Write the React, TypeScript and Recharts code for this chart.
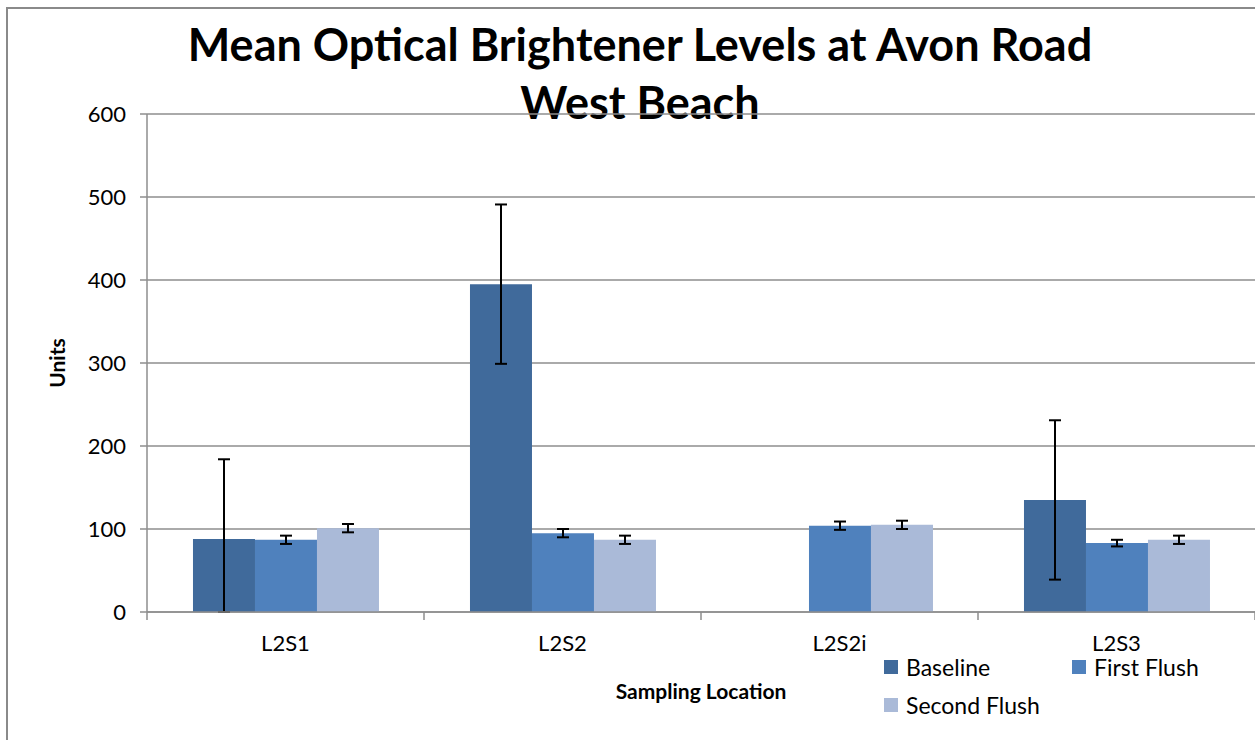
import React from "react";
import {
  Bar,
  BarChart,
  CartesianGrid,
  ErrorBar,
  XAxis,
  YAxis,
} from "recharts";

const categories = ["L2S1", "L2S2", "L2S2i", "L2S3"];
const baseline = [88, 395, null, 135];
const baselineErr = [[88, 96], 96, null, 96];
const firstFlush = [87, 95, 104, 83];
const firstFlushErr = [5, 5, 5, 4];
const secondFlush = [101, 87, 105, 87];
const secondFlushErr = [5, 5, 5, 5];
const yTicks = [0, 100, 200, 300, 400, 500, 600];
const edgeTicks = [0, 1, 2, 3, 4];

const series = [
  { key: "baseline", name: "Baseline", color: "#406A9B" },
  { key: "firstFlush", name: "First Flush", color: "#4F81BD" },
  { key: "secondFlush", name: "Second Flush", color: "#AABAD8" },
];

const FONT = "Lato, 'Liberation Sans', sans-serif";
const GRID = "#8e8e8e";

const data = categories.map((name, i) => ({
  name,
  edge: i,
  baseline: baseline[i],
  baselineErr: baselineErr[i],
  firstFlush: firstFlush[i],
  firstFlushErr: firstFlushErr[i],
  secondFlush: secondFlush[i],
  secondFlushErr: secondFlushErr[i],
}));

export default function App() {
  return (
    <div
      style={{
        position: "absolute",
        left: 0,
        top: 0,
        width: 1255,
        height: 740,
        overflow: "hidden",
        background: "#fff",
      }}
    >
      <div
        style={{
          position: "absolute",
          left: 6,
          top: 7,
          width: 1300,
          height: 800,
          border: "2px solid #8a8a8a",
        }}
      />
      <div
        style={{
          position: "absolute",
          left: 140,
          top: 15,
          width: 1000,
          textAlign: "center",
          fontFamily: FONT,
          fontWeight: 700,
          fontSize: 45,
          lineHeight: "58px",
          color: "#000",
        }}
      >
        Mean Optical Brightener Levels at Avon Road
        <br />
        West Beach
      </div>
      <div style={{ position: "absolute", left: 0, top: 0 }}>
        <BarChart
          width={1255}
          height={740}
          data={data}
          margin={{ top: 114, right: 0, bottom: 60, left: 0 }}
          barCategoryGap="16.6%"
          barGap={0}
        >
          <CartesianGrid horizontal vertical={false} stroke={GRID} strokeWidth={1.5} />
          <XAxis
            xAxisId="b_cat"
            dataKey="name"
            tickLine={false}
            axisLine={false}
            tick={{ fontSize: 22, fill: "#000", fontFamily: FONT }}
            tickMargin={9}
            height={60}
            label={{
              value: "Sampling Location",
              position: "insideBottom",
              offset: -19,
              style: { fontSize: 21, fontWeight: 700, fill: "#000", fontFamily: FONT },
            }}
          />
          <XAxis
            xAxisId="a_edges"
            type="number"
            dataKey="edge"
            domain={[0, 4]}
            ticks={edgeTicks}
            tickFormatter={() => ""}
            axisLine={{ stroke: GRID, strokeWidth: 1.5 }}
            tickLine={{ stroke: GRID, strokeWidth: 1.5 }}
            tickSize={8}
            height={8}
            allowDataOverflow
          />
          <YAxis
            domain={[0, 600]}
            ticks={yTicks}
            width={147}
            tickSize={7}
            tickMargin={14}
            axisLine={{ stroke: GRID, strokeWidth: 1.5 }}
            tickLine={{ stroke: GRID, strokeWidth: 1.5 }}
            tick={{ fontSize: 22, fill: "#000", fontFamily: FONT }}
            label={{
              value: "Units",
              angle: -90,
              position: "insideLeft",
              offset: 58,
              style: { fontSize: 21, fontWeight: 700, fill: "#000", fontFamily: FONT, textAnchor: "middle" },
            }}
          />
          <Bar xAxisId="b_cat" dataKey="baseline" name="Baseline" fill={series[0].color} isAnimationActive={false}>
            <ErrorBar dataKey="baselineErr" width={6} stroke="#000" strokeWidth={2} direction="y" />
          </Bar>
          <Bar xAxisId="b_cat" dataKey="firstFlush" name="First Flush" fill={series[1].color} isAnimationActive={false}>
            <ErrorBar dataKey="firstFlushErr" width={6} stroke="#000" strokeWidth={2} direction="y" />
          </Bar>
          <Bar xAxisId="b_cat" dataKey="secondFlush" name="Second Flush" fill={series[2].color} isAnimationActive={false}>
            <ErrorBar dataKey="secondFlushErr" width={6} stroke="#000" strokeWidth={2} direction="y" />
          </Bar>
        </BarChart>
      </div>
      <div
        style={{
          position: "absolute",
          left: 884,
          top: 655,
          display: "grid",
          gridTemplateColumns: "188px 188px",
          rowGap: 14,
          fontFamily: FONT,
          fontSize: 23,
          color: "#000",
        }}
      >
        {series.map((s) => (
          <div key={s.key} style={{ display: "flex", alignItems: "center", height: 24 }}>
            <span
              style={{
                width: 14,
                height: 14,
                background: s.color,
                display: "inline-block",
                marginRight: 8,
              }}
            />
            {s.name}
          </div>
        ))}
      </div>
    </div>
  );
}
